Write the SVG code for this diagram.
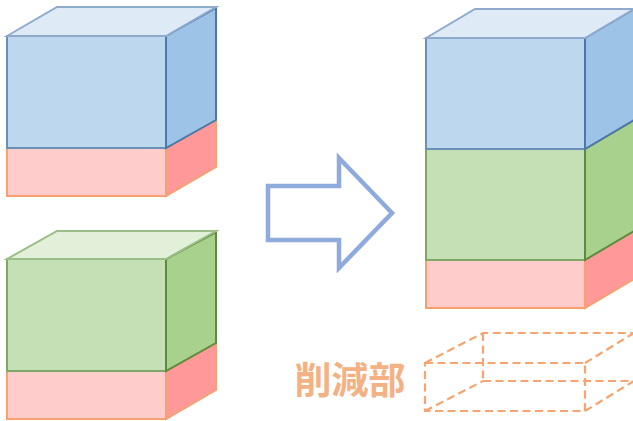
<svg xmlns="http://www.w3.org/2000/svg" width="633" height="421" viewBox="0 0 633 421">
<style>
.bf{fill:#BDD7EE;stroke:#6A90B8;stroke-width:2}
.bt{fill:#DEEBF7;stroke:#8FAACC;stroke-width:2}
.bs{fill:#9DC3E6;stroke:#4A78A8;stroke-width:2}
.gf{fill:#C5E0B4;stroke:#7FA866;stroke-width:2}
.gt{fill:#E2F0D9;stroke:#9BBD86;stroke-width:2}
.gs{fill:#A9D18E;stroke:#5E8A3E;stroke-width:2}
.pf{fill:#FFCCCC;stroke:#F8A070;stroke-width:2}
.ps{fill:#FF9999;stroke:#F8A070;stroke-width:2}
.d{fill:none;stroke:#F8A46E;stroke-width:2.2;stroke-dasharray:8,4.5}
</style>
<g id="block-left-top">
<polygon class="pf" points="7,148 166,148 166,196 7,196"/>
<polygon class="ps" points="166,148 216,120 216,167 166,196"/>
<polygon class="bf" points="7,36 166,36 166,148 7,148"/>
<polygon class="bs" points="166,36 216,8 216,120 166,148"/>
<polygon class="bt" points="7,36 57,7 216,7 166,36"/>
</g>
<g id="block-left-bottom">
<polygon class="pf" points="7,371 166,371 166,419 7,419"/>
<polygon class="ps" points="166,371 216,343 216,390 166,419"/>
<polygon class="gf" points="7,259 166,259 166,371 7,371"/>
<polygon class="gs" points="166,259 216,232 216,343 166,371"/>
<polygon class="gt" points="7,259 57,231 216,231 166,259"/>
</g>
<g id="arrow">
<polygon points="268,186 339,186 339,158 392,213 339,268 339,240 268,240" fill="none" stroke="#8FAADC" stroke-width="4.5"/>
</g>
<g id="block-right">
<polygon class="pf" points="426,260 585,260 585,308 426,308"/>
<polygon class="ps" points="585,260 634,231 634,279 585,308"/>
<polygon class="gf" points="426,149 585,149 585,260 426,260"/>
<polygon class="gs" points="585,149 634,120 634,231 585,260"/>
<polygon class="bf" points="426,38 585,38 585,149 426,149"/>
<polygon class="bs" points="585,38 634,9 634,120 585,149"/>
<polygon class="bt" points="426,38 475,9 634,9 585,38"/>
</g>
<g id="reduced-part">
<path class="d" d="M483,333 L483,381 M483,381 L634,381 M425,411 L483,381"/>
<path class="d" d="M425,363 L483,333 L634,333 M585,363 L634,333 M585,411 L634,381"/>
<rect class="d" x="425" y="363" width="160" height="48"/>
<text x="350" y="394" text-anchor="middle" font-family="'Noto Sans CJK JP', 'Noto Sans CJK SC', sans-serif" font-size="37" font-weight="bold" fill="#F4B183">削減部</text>
</g>
</svg>
